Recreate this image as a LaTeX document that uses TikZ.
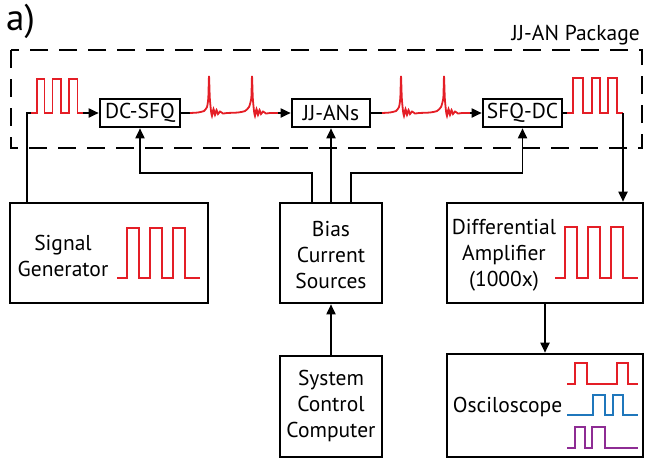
\documentclass[tikz,border=0pt]{standalone}
\usepackage{fontspec}
\setmainfont{PT Sans}
\usetikzlibrary{arrows.meta}
\definecolor{sigred}{RGB}{228,30,38}
\definecolor{sigblue}{RGB}{31,119,188}
\definecolor{sigpurple}{RGB}{142,44,148}
\newcommand{\spkpair}[1]{\draw[sig, shift={(#1,113)}] plot[smooth, tension=0.35] coordinates {(0,0) (8,-0.5) (14,-2) (17,-6) (18.3,-15) (19,-37) (19.8,-15) (21,-2) (22,3) (23.5,-4) (25,2) (26.5,-3) (28,1) (30,-1.5) (33,0.5) (37,0) (48,-0.5) (55,-2) (59,-6) (61.3,-15) (62,-37) (62.8,-15) (64,-2) (65,3) (66.5,-4) (68,2) (69.5,-3) (71,1) (73,-1.5) (76,0.5) (80,0) (88,0)};}
\begin{document}
\begin{tikzpicture}[x=1pt,y=-1pt,
  box/.style={draw, line width=2.6pt, inner sep=0pt},
  lbl/.style={font=\fontsize{21.5}{26}\selectfont, align=center, inner sep=0pt},
  wire/.style={line width=1.8pt},
  arr/.style={line width=1.8pt, -{Triangle[length=10pt,width=9pt]}},
  sig/.style={line width=1.8pt, sigred, line join=miter},
  pkg/.style={line width=2.8pt, dash pattern=on 18pt off 11pt}]
\useasboundingbox (0,0) rectangle (645,459);

% title and package
\node[anchor=base west, inner sep=0pt, font=\fontsize{37}{42}\selectfont] (title) at (6,30) {a)};
\node[anchor=base east, inner sep=0pt, font=\fontsize{21.5}{26}\selectfont] (pkglbl) at (640,40) {JJ-AN Package};
\draw[pkg] (11,50) rectangle (642,148);

% package blocks
\node[box, minimum width=80pt, minimum height=28pt, font=\fontsize{21.5}{26}\selectfont] (dcsfq) at (140,113) {DC-SFQ};
\node[box, minimum width=78pt, minimum height=28pt, font=\fontsize{21.5}{26}\selectfont] (jjan) at (331,113) {JJ-ANs};
\node[box, minimum width=79pt, minimum height=28pt, font=\fontsize{21.5}{26}\selectfont] (sfqdc) at (522.5,113) {SFQ-DC};

% lower boxes
\node[box, minimum width=198pt, minimum height=100pt] (siggen) at (109,253) {};
\node[box, minimum width=102pt, minimum height=100pt] (bias) at (331,253) {};
\node[box, minimum width=196pt, minimum height=100pt] (amp) at (545,253) {};
\node[box, minimum width=102pt, minimum height=101pt] (sys) at (331,406.5) {};
\node[box, minimum width=196pt, minimum height=103pt] (osc) at (545,405.5) {};

% labels
\node[lbl] (siglbl) at (63,256) {Signal\\Generator};
\node[lbl] (biaslbl) at (331,255.5) {Bias\\Current\\Sources};
\node[lbl] (amplbl) at (504,255.5) {Differential\\Amplifier\\(1000x)};
\node[lbl] (syslbl) at (331,405.5) {System\\Control\\Computer};
\node[lbl] (osclbl) at (507.5,406.5) {Osciloscope};

% coordinates
\coordinate (s0) at (27,113);
\coordinate (s1) at (31,113);
\coordinate (s2) at (83,113);
\coordinate (p1) at (190,113);
\coordinate (p2) at (278,113);
\coordinate (p3) at (382,113);
\coordinate (p4) at (470,113);
\coordinate (o0) at (567,113);
\coordinate (o1) at (623,113);
\coordinate (bl) at (312,173);
\coordinate (br) at (351,173);

% input signal path
\draw[wire] (siggen.north -| s0) -- (s0) -- (s1);
\draw[sig] (s1) -- (37,113) -- (37,79) -- (44.5,79) -- (44.5,113) -- (52.5,113) -- (52.5,79) -- (61,79) -- (61,113) -- (69,113) -- (69,79) -- (77.5,79) -- (77.5,113) -- (s2);
\draw[arr] (s2) -- (dcsfq.west);
\draw[wire] (dcsfq.east) -- (p1);
\spkpair{190}
\draw[arr] (p2) -- (jjan.west);
\draw[wire] (jjan.east) -- (p3);
\spkpair{382}
\draw[arr] (p4) -- (sfqdc.west);
\draw[wire] (sfqdc.east) -- (o0);
\draw[sig] (o0) -- (573,113) -- (573,78) -- (583,78) -- (583,113) -- (592,113) -- (592,78) -- (600,78) -- (600,113) -- (608,113) -- (608,78) -- (617,78) -- (617,113) -- (o1);
\draw[arr] (o1) -- (o1 |- amp.north);

% bias lines
\draw[arr] (bias.north) -- (jjan.south);
\draw[arr] (bias.north -| bl) -- (bl) -- (bl -| dcsfq.south) -- (dcsfq.south);
\draw[arr] (bias.north -| br) -- (br) -- (br -| sfqdc.south) -- (sfqdc.south);
\draw[arr] (sys.north) -- (bias.south);
\draw[arr] (amp.south) -- (osc.north);

% waves in boxes
\draw[sig] (117,278) -- (127,278) -- (127,228) -- (139,228) -- (139,278) -- (150,278) -- (150,228) -- (162,228) -- (162,278) -- (173,278) -- (173,228) -- (185,228) -- (185,278) -- (200,278);
\draw[sig] (555,278) -- (565,278) -- (565,227) -- (577,227) -- (577,278) -- (588,278) -- (588,227) -- (600,227) -- (600,278) -- (611,278) -- (611,227) -- (623,227) -- (623,278) -- (638,278);
\draw[sig] (567,384) -- (575,384) -- (575,363) -- (587,363) -- (587,384) -- (617,384) -- (617,363) -- (628,363) -- (628,384) -- (638,384);
\draw[sig, sigblue] (567,415) -- (593,415) -- (593,395) -- (605,395) -- (605,415) -- (613,415) -- (613,395) -- (623,395) -- (623,415) -- (638,415);
\draw[sig, sigpurple] (567,448) -- (575,448) -- (575,427) -- (585,427) -- (585,448) -- (592,448) -- (592,427) -- (605,427) -- (605,448) -- (638,448);
\end{tikzpicture}
\end{document}
